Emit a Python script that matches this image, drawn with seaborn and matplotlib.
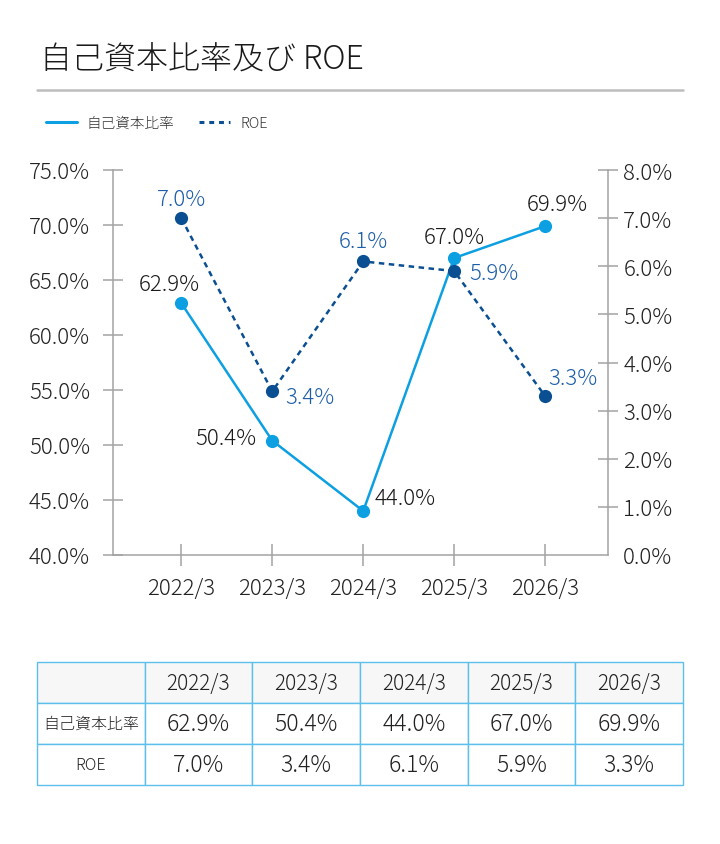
import numpy as np
import pandas as pd
import seaborn as sns
import matplotlib.pyplot as plt
from matplotlib.lines import Line2D

#%% data
years = ['2022/3', '2023/3', '2024/3', '2025/3', '2026/3']
equity_ratio = [62.9, 50.4, 44.0, 67.0, 69.9]
roe = [7.0, 3.4, 6.1, 5.9, 3.3]
left_ticks = [40, 45, 50, 55, 60, 65, 70, 75]
right_ticks = [0, 1, 2, 3, 4, 5, 6, 7, 8]
title = '自己資本比率及び ROE'
name_eq = '自己資本比率'
name_roe = 'ROE'

#%% style
sns.set_style('white')
plt.rcParams['font.family'] = ['Noto Sans CJK JP', 'DejaVu Sans']
plt.rcParams['font.weight'] = 'light'
c_eq = '#0ca0e2'
c_roe = '#0b4f93'
c_roe_txt = '#1d5ea8'
c_txt = '#222222'
c_axis = '#a3a3a3'
c_grid = '#5cbfec'

fig = plt.figure(figsize=(7.2, 8.45), dpi=100)

# title + rule
fig.text(40/720, 1-60/845, title, fontsize=23, color='#1a1a1a', va='center', ha='left')
fig.add_artist(Line2D([37/720, 683/720], [1-91/845, 1-91/845], color='#bdbdbd', lw=1.8))

#%% chart
ax = fig.add_axes([113/720, 1-556/845, (608-113)/720, (556-171)/845])
df = pd.DataFrame({'year': years, 'eq': equity_ratio, 'roe': roe})
sns.lineplot(data=df, x='year', y='eq', ax=ax, color=c_eq, lw=1.8, marker='o',
             markersize=9.5, markeredgewidth=0, sort=False, legend=False)
ax2 = ax.twinx()
sns.lineplot(data=df, x='year', y='roe', ax=ax2, color=c_roe, lw=1.8, marker='o',
             markersize=9.5, markeredgewidth=0, sort=False, legend=False,
             linestyle=(0, (2.2, 1.8)))

ax.set_xlim(-0.75, 4.69)
ax.set_ylim(40, 75)
ax2.set_ylim(0, 8)
ax.set_yticks(left_ticks)
ax.set_yticklabels([f'{v:.1f}%' for v in left_ticks])
ax2.set_yticks(right_ticks)
ax2.set_yticklabels([f'{v:.1f}%' for v in right_ticks])
ax.set_xlabel('')
ax.set_ylabel('')
ax2.set_ylabel('')

for a in (ax, ax2):
    a.spines['top'].set_visible(False)
    for s in ['left', 'right', 'bottom']:
        a.spines[s].set_color(c_axis)
        a.spines[s].set_linewidth(1.1)
ax.spines['right'].set_visible(False)
ax2.spines['left'].set_visible(False)
ax2.spines['bottom'].set_visible(False)

ax.tick_params(axis='y', left=True, direction='inout', length=15, width=1.1, color=c_axis,
               labelsize=16, labelcolor=c_txt, pad=9)
ax.tick_params(axis='x', bottom=True, direction='inout', length=16, width=1.1, color=c_axis,
               labelsize=16, labelcolor=c_txt, pad=8)
ax2.tick_params(axis='y', right=True, direction='inout', length=14, width=1.1, color=c_axis,
                labelsize=16, labelcolor=c_txt, pad=4)
ax2.yaxis.get_major_ticks()[0].tick2line.set_visible(False)

# data labels
eq_off = [(-8.6, 13.7, 'center'), (-11.5, 2, 'right'), (8, 9.4, 'left'),
          (0, 15, 'center'), (8.6, 16, 'center')]
roe_off = [(0, 13.7, 'center'), (9.4, -4.3, 'left'), (0, 14.4, 'center'),
           (10.8, -1.4, 'left'), (20, 13, 'center')]
for i, v in enumerate(equity_ratio):
    dx, dy, ha = eq_off[i]
    ax.annotate(f'{v:.1f}%', (i, v), xytext=(dx, dy), textcoords='offset points',
                ha=ha, va='center', fontsize=16, color='#1a1a1a')
for i, v in enumerate(roe):
    dx, dy, ha = roe_off[i]
    ax2.annotate(f'{v:.1f}%', (i, v), xytext=(dx, dy), textcoords='offset points',
                 ha=ha, va='center', fontsize=16, color=c_roe_txt)

# legend
handles = [Line2D([], [], color=c_eq, lw=2.2),
           Line2D([], [], color=c_roe, lw=2.2, linestyle=(0, (1.6, 1.6)))]
fig.legend(handles, [name_eq, name_roe], loc='center left',
           bbox_to_anchor=(46/720, 1-124/845), ncol=2, frameon=False,
           fontsize=10.5, handlelength=2.1, handletextpad=0.7,
           columnspacing=1.7, borderpad=0, borderaxespad=0,
           labelcolor='#333333')

#%% table
tax = fig.add_axes([37/720, 1-786/845, (683-37)/720, (786-663)/845])
tax.axis('off')
cells = [[''] + years,
         [name_eq] + [f'{v:.1f}%' for v in equity_ratio],
         [name_roe] + [f'{v:.1f}%' for v in roe]]
tbl = tax.table(cellText=cells, bbox=[0, 0, 1, 1], cellLoc='center')
tbl.auto_set_font_size(False)
for (r, c), cell in tbl.get_celld().items():
    cell.set_edgecolor(c_grid)
    cell.set_linewidth(1.0)
    cell.set_facecolor('#f7f7f7' if r == 0 else 'white')
    txt = cell.get_text()
    txt.set_color(c_txt)
    if c == 0:
        txt.set_fontsize(11.5)
    elif r == 0:
        txt.set_fontsize(15)
    else:
        txt.set_fontsize(16.5)

plt.savefig('out.png', dpi=100)
